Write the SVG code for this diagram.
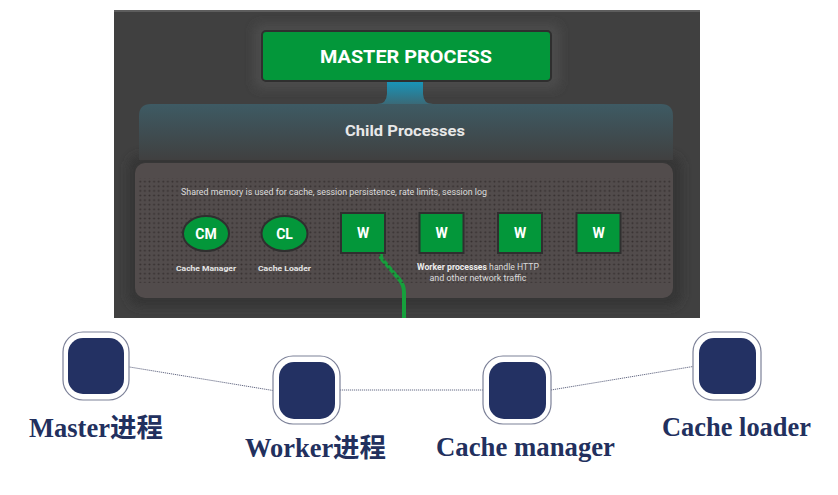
<svg xmlns="http://www.w3.org/2000/svg" width="838" height="495" viewBox="0 0 838 495">
<style>
.ttl{font-family:Roboto,"Liberation Sans",sans-serif;font-weight:bold;fill:#ffffff;text-anchor:middle}
.sm{font-family:Roboto,"Liberation Sans",sans-serif;fill:#dcdcdc;font-size:8.3px}
.smb{font-family:Roboto,"Liberation Sans",sans-serif;fill:#e6e6e6;font-size:8px;font-weight:bold;text-anchor:middle}
.gn{fill:#03973a;stroke:#2f2f2f;stroke-width:2}
.lbl{font-family:"Liberation Serif","Noto Sans CJK SC",serif;font-weight:bold;font-size:26.5px;fill:#22305e}
.ring{fill:#ffffff;stroke:#7c8198;stroke-width:1.2}
.core{fill:#233163}
.con{fill:none;stroke:#676c86;stroke-width:1;stroke-dasharray:1.2 0.8}
</style>
<defs>
<linearGradient id="band" x1="0" y1="0" x2="0" y2="1">
<stop offset="0" stop-color="#3d6572"/>
<stop offset="1" stop-color="#404040"/>
</linearGradient>
<linearGradient id="stem" x1="0" y1="0" x2="0" y2="1">
<stop offset="0" stop-color="#1796bb"/>
<stop offset="1" stop-color="#3a6a78"/>
</linearGradient>
<pattern id="dots" width="4.6" height="4.6" patternUnits="userSpaceOnUse">
<circle cx="2.3" cy="2.3" r="1" fill="#363030"/>
</pattern>
<filter id="blur" x="-20%" y="-40%" width="140%" height="180%">
<feGaussianBlur stdDeviation="5"/>
</filter>
</defs>

<g id="screenshot">
<rect x="114" y="10" width="586" height="308" fill="#404040"/>
<line x1="114" y1="11" x2="700" y2="11" stroke="#676767" stroke-width="1.5"/>
<rect x="254" y="24" width="306" height="65" rx="8" fill="#4c4c4c" filter="url(#blur)"/>
<rect x="128" y="155" width="554" height="152" rx="14" fill="#353535" filter="url(#blur)"/>
<path d="M139,116 Q139,104 151,104 L377,104 Q387,104 387,94 L387,81 L423,81 L423,94 Q423,104 433,104 L661,104 Q673,104 673,116 L673,160 L139,160 Z" fill="url(#band)"/>
<path d="M387,81 L387,94 Q387,104 377,104 L433,104 Q423,104 423,94 L423,81 Z" fill="url(#stem)"/>
<rect x="135" y="163" width="538" height="135" rx="10" fill="#524c4c"/>
<path d="M381,253 L381,258 L399,279 Q404,285 404,292 L404,318" fill="none" stroke="#16a03c" stroke-width="4"/>
<rect x="137" y="178" width="535" height="105" fill="url(#dots)"/>
</g>

<g id="master-process">
<rect class="gn" x="262" y="31" width="289" height="50" rx="4"/>
<text class="ttl" x="406" y="63" font-size="17.5" textLength="172" lengthAdjust="spacingAndGlyphs">MASTER PROCESS</text>
</g>
<g id="child-processes">
<text class="ttl" x="405" y="136" font-size="14" style="fill:#e8e8e8" textLength="120" lengthAdjust="spacingAndGlyphs">Child Processes</text>
</g>
<g id="shared-memory">
<text class="sm" x="181" y="195" textLength="306" lengthAdjust="spacingAndGlyphs">Shared memory is used for cache, session persistence, rate limits, session log</text>
</g>
<g id="cm">
<ellipse class="gn" cx="206" cy="233.5" rx="23" ry="17.5"/>
<text class="ttl" x="206" y="238.5" font-size="14">CM</text>
<text class="smb" x="206" y="271" textLength="60" lengthAdjust="spacingAndGlyphs">Cache Manager</text>
</g>
<g id="cl">
<ellipse class="gn" cx="284.5" cy="233.5" rx="23" ry="17.5"/>
<text class="ttl" x="284.5" y="238.5" font-size="14">CL</text>
<text class="smb" x="284.5" y="271" textLength="53" lengthAdjust="spacingAndGlyphs">Cache Loader</text>
</g>
<g id="w1"><rect class="gn" x="341" y="213" width="44" height="40"/><text class="ttl" x="363" y="238" font-size="14">W</text></g>
<g id="w2"><rect class="gn" x="419.5" y="213" width="44" height="40"/><text class="ttl" x="441.5" y="238" font-size="14">W</text></g>
<g id="w3"><rect class="gn" x="498" y="213" width="44" height="40"/><text class="ttl" x="520" y="238" font-size="14">W</text></g>
<g id="w4"><rect class="gn" x="576.5" y="213" width="44" height="40"/><text class="ttl" x="598.5" y="238" font-size="14">W</text></g>
<g id="worker-note">
<text class="sm" x="478" y="270" text-anchor="middle" textLength="122" lengthAdjust="spacingAndGlyphs"><tspan font-weight="bold" fill="#ececec">Worker processes</tspan> handle HTTP</text>
<text class="sm" x="478" y="281" text-anchor="middle" textLength="97" lengthAdjust="spacingAndGlyphs">and other network traffic</text>
</g>

<g id="connectors">
<line class="con" x1="129.5" y1="367" x2="273" y2="390.5"/>
<line class="con" x1="340" y1="390" x2="483" y2="390"/>
<line class="con" x1="551" y1="390" x2="693" y2="366.5"/>
</g>

<g id="node-master">
<rect class="ring" x="63" y="332" width="66" height="68" rx="20"/>
<rect class="core" x="68" y="338" width="56" height="56" rx="15"/>
<text class="lbl" x="29" y="437" textLength="134" lengthAdjust="spacingAndGlyphs">Master进程</text>
</g>
<g id="node-worker">
<rect class="ring" x="273" y="356" width="67" height="68" rx="20"/>
<rect class="core" x="279" y="362" width="56" height="57" rx="15"/>
<text class="lbl" x="245" y="457" textLength="141" lengthAdjust="spacingAndGlyphs">Worker进程</text>
</g>
<g id="node-cache-manager">
<rect class="ring" x="483" y="356" width="68" height="68" rx="20"/>
<rect class="core" x="489" y="362" width="57" height="57" rx="15"/>
<text class="lbl" x="436" y="456" textLength="179" lengthAdjust="spacingAndGlyphs">Cache manager</text>
</g>
<g id="node-cache-loader">
<rect class="ring" x="693" y="332" width="68" height="68" rx="20"/>
<rect class="core" x="699" y="338" width="57" height="56" rx="15"/>
<text class="lbl" x="662" y="436" textLength="149" lengthAdjust="spacingAndGlyphs">Cache loader</text>
</g>
</svg>
